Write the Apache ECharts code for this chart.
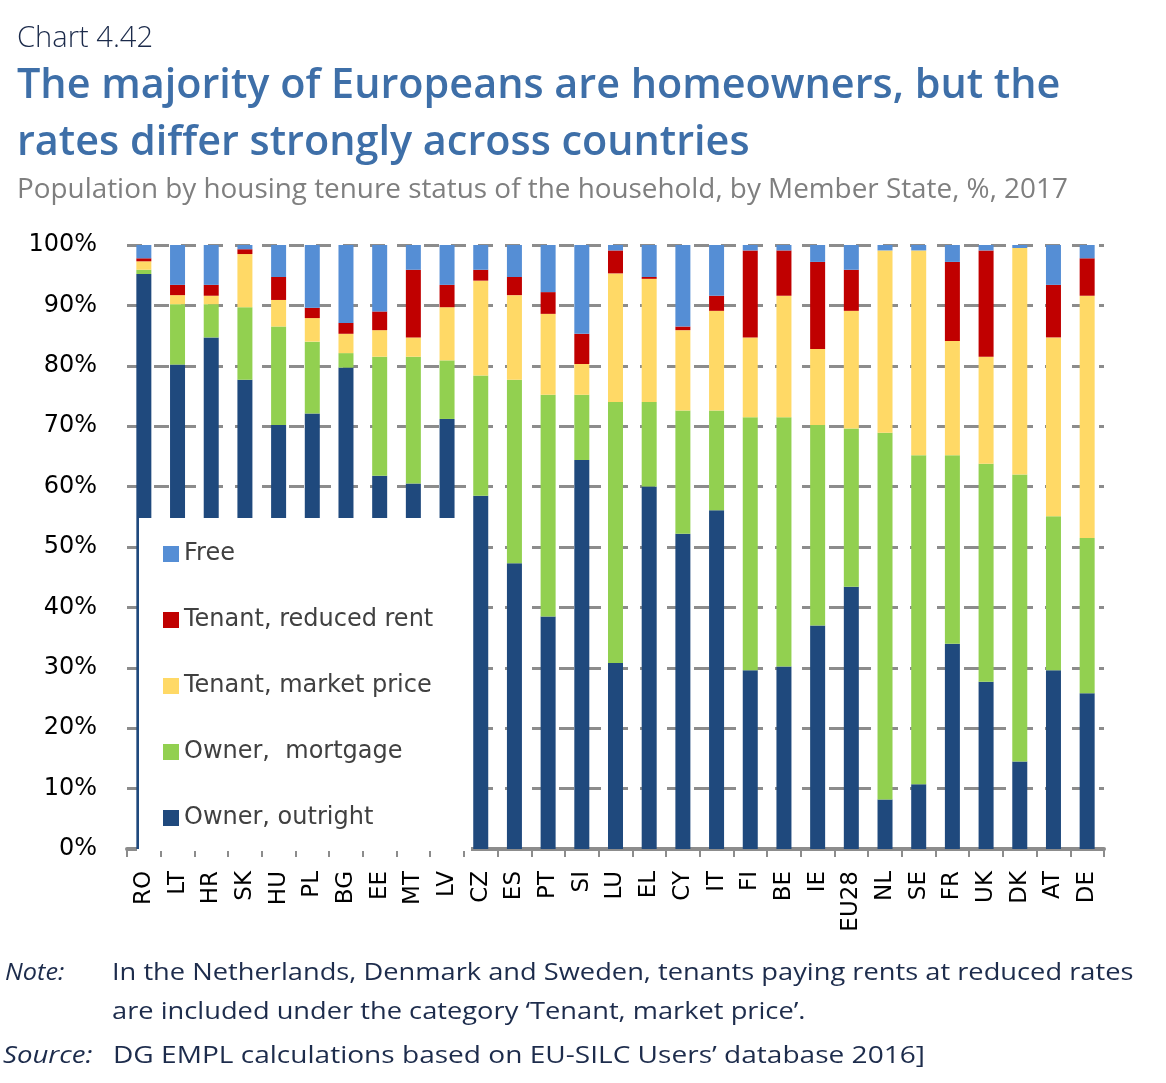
<!DOCTYPE html>
<html>
<head>
<meta charset="utf-8">
<script src="https://cdn.jsdelivr.net/npm/echarts@6/dist/echarts.min.js"></script>
<style>
html,body{margin:0;padding:0;background:#fff;}
#chart{width:1166px;height:1083px;}
</style>
</head>
<body>
<div id="chart"></div>
<script>
const categories = ['RO','LT','HR','SK','HU','PL','BG','EE','MT','LV','CZ','ES','PT','SI','LU','EL','CY','IT','FI','BE','IE','EU28','NL','SE','FR','UK','DK','AT','DE'];
const ownerOutright  = [95.2,80.2,84.7,77.7,70.2,72.1,79.7,61.8,60.5,71.2,58.5,47.3,38.5,64.4,30.8,60.0,52.2,56.1,29.6,30.2,37.0,43.4, 8.2,10.7,34.0,27.7,14.5,29.6,25.8];
const ownerMortgage  = [ 0.7,10.0, 5.5,12.0,16.3,11.9, 2.4,19.7,21.0, 9.7,19.9,30.4,36.7,10.8,43.2,14.0,20.4,16.5,41.9,41.3,33.2,26.2,60.7,54.5,31.2,36.1,47.5,25.5,25.7];
const tenantMarket   = [ 1.4, 1.5, 1.4, 8.8, 4.4, 3.9, 3.2, 4.4, 3.2, 8.8,15.7,14.0,13.4, 5.1,21.3,20.4,13.3,16.5,13.2,20.1,12.6,19.5,30.2,33.9,18.9,17.7,37.5,29.6,40.1];
const tenantReduced  = [ 0.5, 1.7, 1.8, 0.8, 3.8, 1.7, 1.8, 3.1,11.2, 3.7, 1.8, 3.0, 3.6, 5.0, 3.8, 0.3, 0.6, 2.5,14.4, 7.5,14.4, 6.8, 0.0, 0.0,13.1,17.6, 0.0, 8.7, 6.2];
const freeTenure     = [ 2.2, 6.6, 6.6, 0.7, 5.3,10.4,12.9,11.0, 4.1, 6.6, 4.1, 5.3, 7.8,14.7, 0.9, 5.3,13.5, 8.4, 0.9, 0.9, 2.8, 4.1, 0.9, 0.9, 2.8, 0.9, 0.5, 6.6, 2.2];
const seriesNames = ['Owner, outright','Owner,  mortgage','Tenant, market price','Tenant, reduced rent','Free'];
const seriesColors = ['#1f497d','#92d050','#ffd966','#c00000','#558ed5'];
const yTicks = [0,10,20,30,40,50,60,70,80,90,100];

const chart = echarts.init(document.getElementById('chart'), null, {renderer:'canvas'});
const dataSets = [ownerOutright, ownerMortgage, tenantMarket, tenantReduced, freeTenure];
const series = dataSets.map((d,i)=>({
  name: seriesNames[i], type:'bar', stack:'tenure', data:d, barWidth:15,
  itemStyle:{color:seriesColors[i]}, emphasis:{disabled:true}, animation:false
}));

const titleFont = '"Open Sans", "Noto Sans", sans-serif';
const axisFont = '"DejaVu Sans", Verdana, sans-serif';
const noteStyle = (t, italic) => ({text:t, font:(italic?'italic ':'')+'400 23px '+titleFont, fill:'#1d2c4c', verticalAlign:'top'});

chart.setOption({
  animation:false,
  backgroundColor:'#fff',
  grid:{left:127, right:62, top:245, bottom:234, containLabel:false},
  xAxis:{
    type:'category', data:categories, boundaryGap:true,
    axisLine:{show:true, lineStyle:{color:'#8c8c8c', width:4}},
    axisTick:{show:true, interval:0, length:8, lineStyle:{color:'#8c8c8c', width:2}},
    axisLabel:{interval:0, rotate:90, margin:22, fontSize:23, color:'#000', fontFamily:axisFont}
  },
  yAxis:{
    type:'value', min:0, max:100, interval:10,
    axisLine:{show:false}, axisTick:{show:false},
    axisLabel:{formatter:'{value}%', fontSize:24, color:'#000', margin:30, fontFamily:axisFont},
    splitLine:{show:true, lineStyle:{color:'#8c8c8c', width:3, type:[15,12]}}
  },
  legend:{
    show:true, orient:'vertical', left:158, top:537, z:100,
    data:['Free','Tenant, reduced rent','Tenant, market price','Owner,  mortgage','Owner, outright'],
    icon:'rect', itemWidth:16, itemHeight:16, itemGap:42,
    textStyle:{fontSize:24, lineHeight:24, color:'#404040', fontFamily:axisFont},
    selectedMode:false
  },
  series: series,
  graphic:[
    {type:'rect', z:50, silent:true, shape:{x:137, y:518, width:334, height:333}, style:{fill:'#fff'}},
    {type:'line', z:51, silent:true, shape:{x1:138, y1:518, x2:138, y2:849}, style:{stroke:'#1f497d', lineWidth:2}},
    {type:'text', z:60, x:17, y:23, scaleX:0.97, style:{text:'Chart 4.42', font:'300 30px '+titleFont, fill:'#1b2a4a', verticalAlign:'top'}},
    {type:'text', z:60, x:17, y:65, scaleX:0.985, style:{text:'The majority of Europeans are homeowners, but the', font:'600 42px '+titleFont, fill:'#3e6fa8', verticalAlign:'top'}},
    {type:'text', z:60, x:17, y:122, scaleX:0.985, style:{text:'rates differ strongly across countries', font:'600 42px '+titleFont, fill:'#3e6fa8', verticalAlign:'top'}},
    {type:'text', z:60, x:17, y:176, scaleX:0.995, style:{text:'Population by housing tenure status of the household, by Member State, %, 2017', font:'400 28px '+titleFont, fill:'#7f7f7f', verticalAlign:'top'}},
    {type:'text', z:60, x:5, y:962, scaleX:1.1, style:noteStyle('Note:', true)},
    {type:'text', z:60, x:112, y:962, scaleX:1.185, style:noteStyle('In the Netherlands, Denmark and Sweden, tenants paying rents at reduced rates')},
    {type:'text', z:60, x:112, y:1001, scaleX:1.185, style:noteStyle('are included under the category \u2018Tenant, market price\u2019.')},
    {type:'text', z:60, x:3, y:1045, scaleX:1.2, style:noteStyle('Source:', true)},
    {type:'text', z:60, x:113, y:1045, scaleX:1.22, style:noteStyle('DG EMPL calculations based on EU-SILC Users\u2019 database 2016]')}
  ]
});
</script>
</body>
</html>
